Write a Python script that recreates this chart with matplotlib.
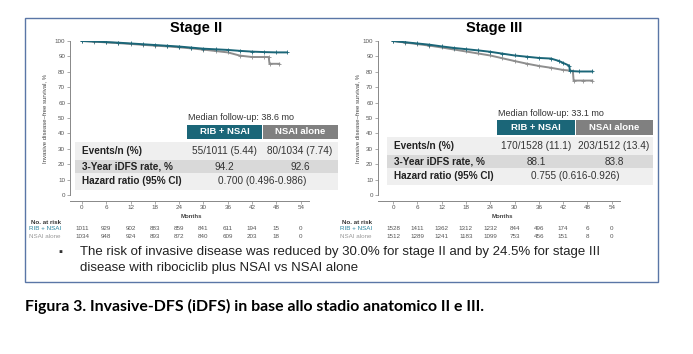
import matplotlib
matplotlib.use("Agg")
import matplotlib.pyplot as plt
from matplotlib.patches import Rectangle
from matplotlib.transforms import blended_transform_factory

plt.rcParams['font.family'] = ['Liberation Sans', 'DejaVu Sans']

W, H = 693, 354
TEAL = '#1b6678'
GRAY = '#8e8e8e'

# KM curves (months, % iDFS)
s2_rib_t = [0, 3, 6, 9, 12, 15, 18, 21, 24, 27, 30, 33, 36, 39, 42, 45, 48, 50.5]
s2_rib_s = [100, 99.7, 99.3, 98.9, 98.4, 97.9, 97.4, 96.9, 96.4, 95.7, 95.0, 94.6, 94.2, 93.6, 93.1, 92.8, 92.6, 92.6]
s2_nsai_t = [0, 3, 6, 9, 12, 15, 18, 21, 24, 27, 30, 33, 36, 39, 42, 45, 46.1, 46.3, 48.7]
s2_nsai_s = [100, 99.6, 99.1, 98.6, 98.1, 97.5, 97.0, 96.5, 95.9, 95.2, 94.4, 93.5, 92.6, 90.5, 89.6, 89.6, 89.6, 85.2, 85.2]

s3_rib_t = [0, 3, 6, 9, 12, 15, 18, 21, 24, 27, 30, 33, 36, 39, 41, 42, 43.5, 43.7, 46, 49.2]
s3_rib_s = [100, 99.2, 98.4, 97.6, 96.5, 95.5, 94.7, 93.9, 93.0, 91.8, 90.6, 89.8, 89.0, 88.6, 87.0, 85.8, 84.0, 80.5, 80.2, 80.2]
s3_nsai_t = [0, 3, 6, 9, 12, 15, 18, 21, 24, 27, 30, 33, 36, 39, 42, 44.4, 44.6, 47, 49.2]
s3_nsai_s = [100, 99.0, 98.0, 97.0, 95.8, 94.5, 93.2, 91.9, 90.6, 88.8, 87.0, 85.3, 83.8, 82.6, 81.2, 80.6, 74.3, 74.3, 74.3]

months = [0, 6, 12, 18, 24, 30, 36, 42, 48, 54]
yticks = [0, 10, 20, 30, 40, 50, 60, 70, 80, 90, 100]

s2_risk_rib = [1011, 929, 902, 883, 859, 841, 611, 194, 15, 0]
s2_risk_nsai = [1034, 948, 924, 893, 872, 840, 609, 203, 18, 0]
s3_risk_rib = [1528, 1411, 1362, 1312, 1232, 844, 496, 174, 6, 0]
s3_risk_nsai = [1512, 1289, 1241, 1183, 1099, 753, 456, 151, 8, 0]

row_labels = ['Events/n (%)', '3-Year iDFS rate, %', 'Hazard ratio (95% CI)']
s2_events = ['55/1011 (5.44)', '80/1034 (7.74)']
s2_rate = ['94.2', '92.6']
s2_hr = '0.700 (0.496-0.986)'
s3_events = ['170/1528 (11.1)', '203/1512 (13.4)']
s3_rate = ['88.1', '83.8']
s3_hr = '0.755 (0.616-0.926)'


def fx(x):
    return x / W


def fy(y):
    return 1 - y / H


fig = plt.figure(figsize=(W / 100, H / 100), dpi=100)

# frame around the slide
fig.patches.append(Rectangle((fx(25), fy(282)), fx(658) - fx(25), fy(18) - fy(282),
                             transform=fig.transFigure, fill=False,
                             edgecolor='#5a76a6', linewidth=1.0))


def rect(x0, y0, x1, y1, color):
    fig.patches.append(Rectangle((fx(x0), fy(y1)), fx(x1) - fx(x0), fy(y0) - fy(y1),
                                 transform=fig.transFigure, color=color, lw=0))


def panel(left, zero_x, title, title_x, rib_t, rib_s, nsai_t, nsai_s,
          risk_rib, risk_nsai, tb, events, rate, hr, median, label_x, ylab_x):
    x_per_month = 24.3 / 6
    xmin = (left - zero_x) / x_per_month
    right = zero_x + 56 * x_per_month
    ax = fig.add_axes([fx(left), fy(195), fx(right) - fx(left), fy(41) - fy(195)])
    ax.set_xlim(xmin, 56)
    ax.set_ylim(0, 100)
    ax.plot(nsai_t, nsai_s, color=GRAY, lw=1.4, marker='+', ms=2.2,
            mew=0.6, zorder=2)
    ax.plot(rib_t, rib_s, color=TEAL, lw=1.4, marker='+', ms=2.2,
            mew=0.6, zorder=3)
    for s in ['top', 'right']:
        ax.spines[s].set_visible(False)
    ax.spines['bottom'].set_position(('outward', 4))
    ax.spines['bottom'].set_bounds(xmin, 56)
    for s in ['left', 'bottom']:
        ax.spines[s].set_color('#888888')
        ax.spines[s].set_linewidth(0.7)
    ax.set_xticks(months)
    ax.set_yticks(yticks)
    ax.tick_params(labelsize=4.5, colors='#888888', labelcolor='#555555',
                   length=2, width=0.5, pad=1.5)
    ax.set_facecolor('none')
    fig.text(fx(title_x), fy(28), title, ha='center', va='center',
             fontsize=10.5, fontweight='bold')
    fig.text(fx(ylab_x), fy(118), 'Invasive disease\u2013free survival, %', rotation=90,
             ha='center', va='center', fontsize=4.3, color='#444444')
    fig.text((fx(zero_x) + fx(zero_x + 54 * x_per_month)) / 2, fy(217), 'Months',
             ha='center', va='center', fontsize=4.3, fontweight='bold', color='#444444')

    # risk table
    tr = blended_transform_factory(ax.transData, fig.transFigure)
    fig.text(fx(label_x + 2), fy(222), 'No. at risk', fontsize=4.5, fontweight='bold',
             va='center', color='#333333')
    fig.text(fx(label_x), fy(228.5), 'RIB + NSAI', fontsize=4.5, va='center', color='#2a86a0')
    fig.text(fx(label_x), fy(236), 'NSAI alone', fontsize=4.5, va='center', color='#999999')
    for m, a, b in zip(months, risk_rib, risk_nsai):
        ax.text(m, fy(228.5), str(a), transform=tr, ha='center', va='center',
                fontsize=4.5, color='#555555')
        ax.text(m, fy(236), str(b), transform=tr, ha='center', va='center',
                fontsize=4.5, color='#555555')

    # summary table
    x0, c1, c2, x3, hy0, hy1, r0, r1, r2, r3, my = tb
    fig.text(fx(c1 + 1), fy(my), median, fontsize=6.5, va='center', color='#333333')
    rect(c1, hy0, c2, hy1, TEAL)
    rect(c2 + 1, hy0, x3, hy1, '#808080')
    rect(x0, r0, x3, r1, '#efefef')
    rect(x0, r1, x3, r2, '#d9d9d9')
    rect(x0, r2, x3, r3, '#efefef')
    fig.text((fx(c1) + fx(c2)) / 2, fy((hy0 + hy1) / 2), 'RIB + NSAI', ha='center',
             va='center', fontsize=6.8, fontweight='bold', color='white')
    fig.text((fx(c2) + fx(x3)) / 2, fy((hy0 + hy1) / 2), 'NSAI alone', ha='center',
             va='center', fontsize=6.8, fontweight='bold', color='white')
    ys = [(r0 + r1) / 2, (r1 + r2) / 2, (r2 + r3) / 2]
    for lab, y in zip(row_labels, ys):
        fig.text(fx(x0 + 7), fy(y), lab, fontsize=7.2, fontweight='bold', va='center',
                 color='#222222')
    for vals, y in zip([events, rate], ys[:2]):
        fig.text((fx(c1) + fx(c2)) / 2, fy(y), vals[0], ha='center', va='center',
                 fontsize=7.2, color='#333333')
        fig.text((fx(c2) + fx(x3)) / 2, fy(y), vals[1], ha='center', va='center',
                 fontsize=7.2, color='#333333')
    fig.text((fx(c1) + fx(x3)) / 2, fy(ys[2]), hr, ha='center', va='center',
             fontsize=7.2, color='#333333')
    return ax


panel(70, 82, 'Stage II', 196, s2_rib_t, s2_rib_s, s2_nsai_t, s2_nsai_s,
      s2_risk_rib, s2_risk_nsai,
      (75, 187, 262, 338, 125, 139, 142, 160, 173, 190, 117),
      s2_events, s2_rate, s2_hr, 'Median follow-up: 38.6 mo', 29, 45)
panel(378, 393, 'Stage III', 494, s3_rib_t, s3_rib_s, s3_nsai_t, s3_nsai_s,
      s3_risk_rib, s3_risk_nsai,
      (387, 497, 575, 653, 120, 135, 137, 155, 168, 185, 113),
      s3_events, s3_rate, s3_hr, 'Median follow-up: 33.1 mo', 340, 358)

# bullet text
fig.text(fx(58), fy(252), '\u25aa', fontsize=8, va='center', color='#333333')
fig.text(fx(80), fy(252), 'The risk of invasive disease was reduced by 30.0% for stage II '
         'and by 24.5% for stage III', fontsize=9.5, va='center', color='#222222')
fig.text(fx(80), fy(268), 'disease with ribociclib plus NSAI vs NSAI alone',
         fontsize=9.5, va='center', color='#222222')

# caption
fig.text(fx(25), fy(306), 'Figura 3. Invasive-DFS (iDFS) in base allo stadio anatomico II e III.',
         fontsize=11.4, fontweight='bold', va='center', color='black', family='Lato')

fig.savefig('out.png', dpi=100, facecolor='white')
